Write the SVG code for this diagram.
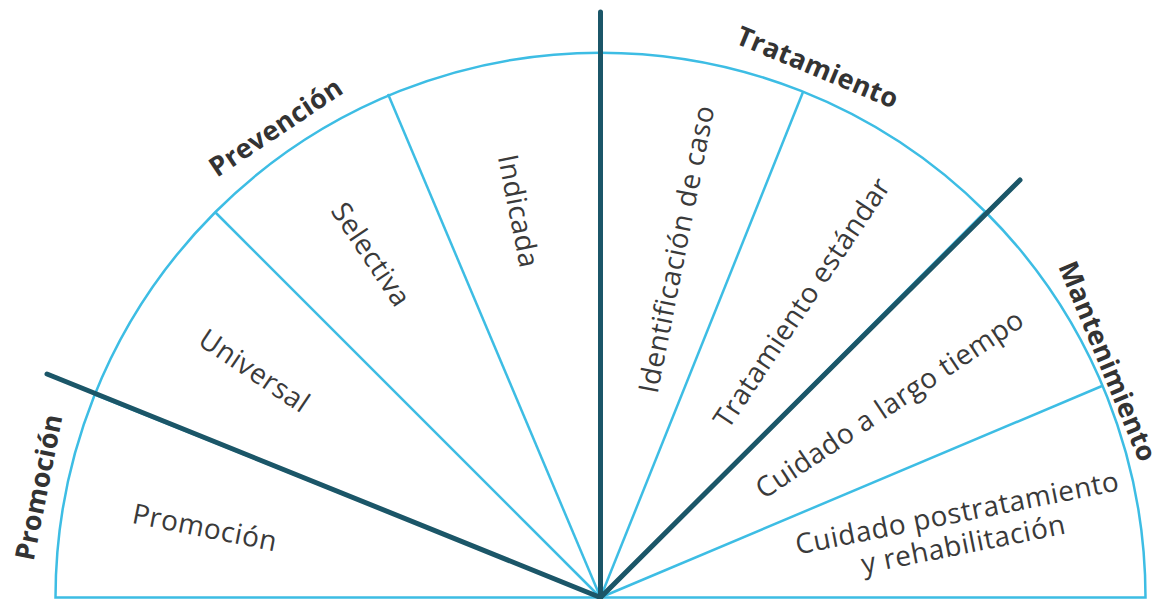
<svg xmlns="http://www.w3.org/2000/svg" width="1163" height="599" viewBox="0 0 1163 599">
<style>
.blue{stroke:#3dbde4;stroke-width:2.5;fill:none}
.dark{stroke:#1b5668;stroke-width:5;stroke-linecap:round;fill:none}
.lbl{font-family:"Open Sans","DejaVu Sans",sans-serif;font-size:28px;letter-spacing:0.5px;fill:#3a3a3a;text-anchor:middle}
.hd{font-family:"Open Sans","DejaVu Sans",sans-serif;font-size:27px;letter-spacing:0.3px;font-weight:700;fill:#333333;text-anchor:middle}
</style>
<rect width="1163" height="599" fill="#ffffff"/>
<g id="connectors">
<path class="blue" d="M55.5 597.5 A545 545 0 0 1 1145.5 597.5 Z"/>
<line class="blue" x1="600.5" y1="597.5" x2="96" y2="395"/>
<line class="blue" x1="600.5" y1="597.5" x2="215" y2="212"/>
<line class="blue" x1="600.5" y1="597.5" x2="388" y2="94"/>
<line class="blue" x1="600.5" y1="597.5" x2="803" y2="92"/>
<line class="blue" x1="600.5" y1="597.5" x2="986" y2="211"/>
<line class="blue" x1="600.5" y1="597.5" x2="1102" y2="386"/>
<line class="dark" x1="600.5" y1="12" x2="600.5" y2="597.5"/>
<line class="dark" x1="47" y1="374" x2="600.5" y2="597.5"/>
<line class="dark" x1="1020" y1="180" x2="600.5" y2="597.5"/>
</g>
<g id="promocion-sector"><text class="lbl" transform="translate(203,537) rotate(11.25)">Promoción</text></g>
<g id="universal"><text class="lbl" transform="translate(249,379) rotate(33.75)">Universal</text></g>
<g id="selectiva"><text class="lbl" transform="translate(363,260) rotate(56.25)">Selectiva</text></g>
<g id="indicada"><text class="lbl" transform="translate(509,213) rotate(78.75)">Indicada</text></g>
<g id="identificacion"><text class="lbl" transform="translate(686,251) rotate(-78.75)">Identificación de caso</text></g>
<g id="tratamiento-estandar"><text class="lbl" transform="translate(810,308) rotate(-56.25)">Tratamiento estándar</text></g>
<g id="cuidado-largo"><text class="lbl" transform="translate(895,412) rotate(-33.75)">Cuidado a largo tiempo</text></g>
<g id="cuidado-post"><g transform="translate(962,537) rotate(-11.25)"><text class="lbl" y="-15">Cuidado postratamiento</text><text class="lbl" y="17">y rehabilitación</text></g></g>
<g id="hd-promocion"><text class="hd" transform="translate(48,489) rotate(-78.75)">Promoción</text></g>
<g id="hd-prevencion"><text class="hd" transform="translate(281,135) rotate(-33.75)">Prevención</text></g>
<g id="hd-tratamiento"><text class="hd" transform="translate(814,76) rotate(22.5)">Tratamiento</text></g>
<g id="hd-mantenimiento"><text class="hd" transform="translate(1099,365) rotate(67.5)">Mantenimiento</text></g>
</svg>
